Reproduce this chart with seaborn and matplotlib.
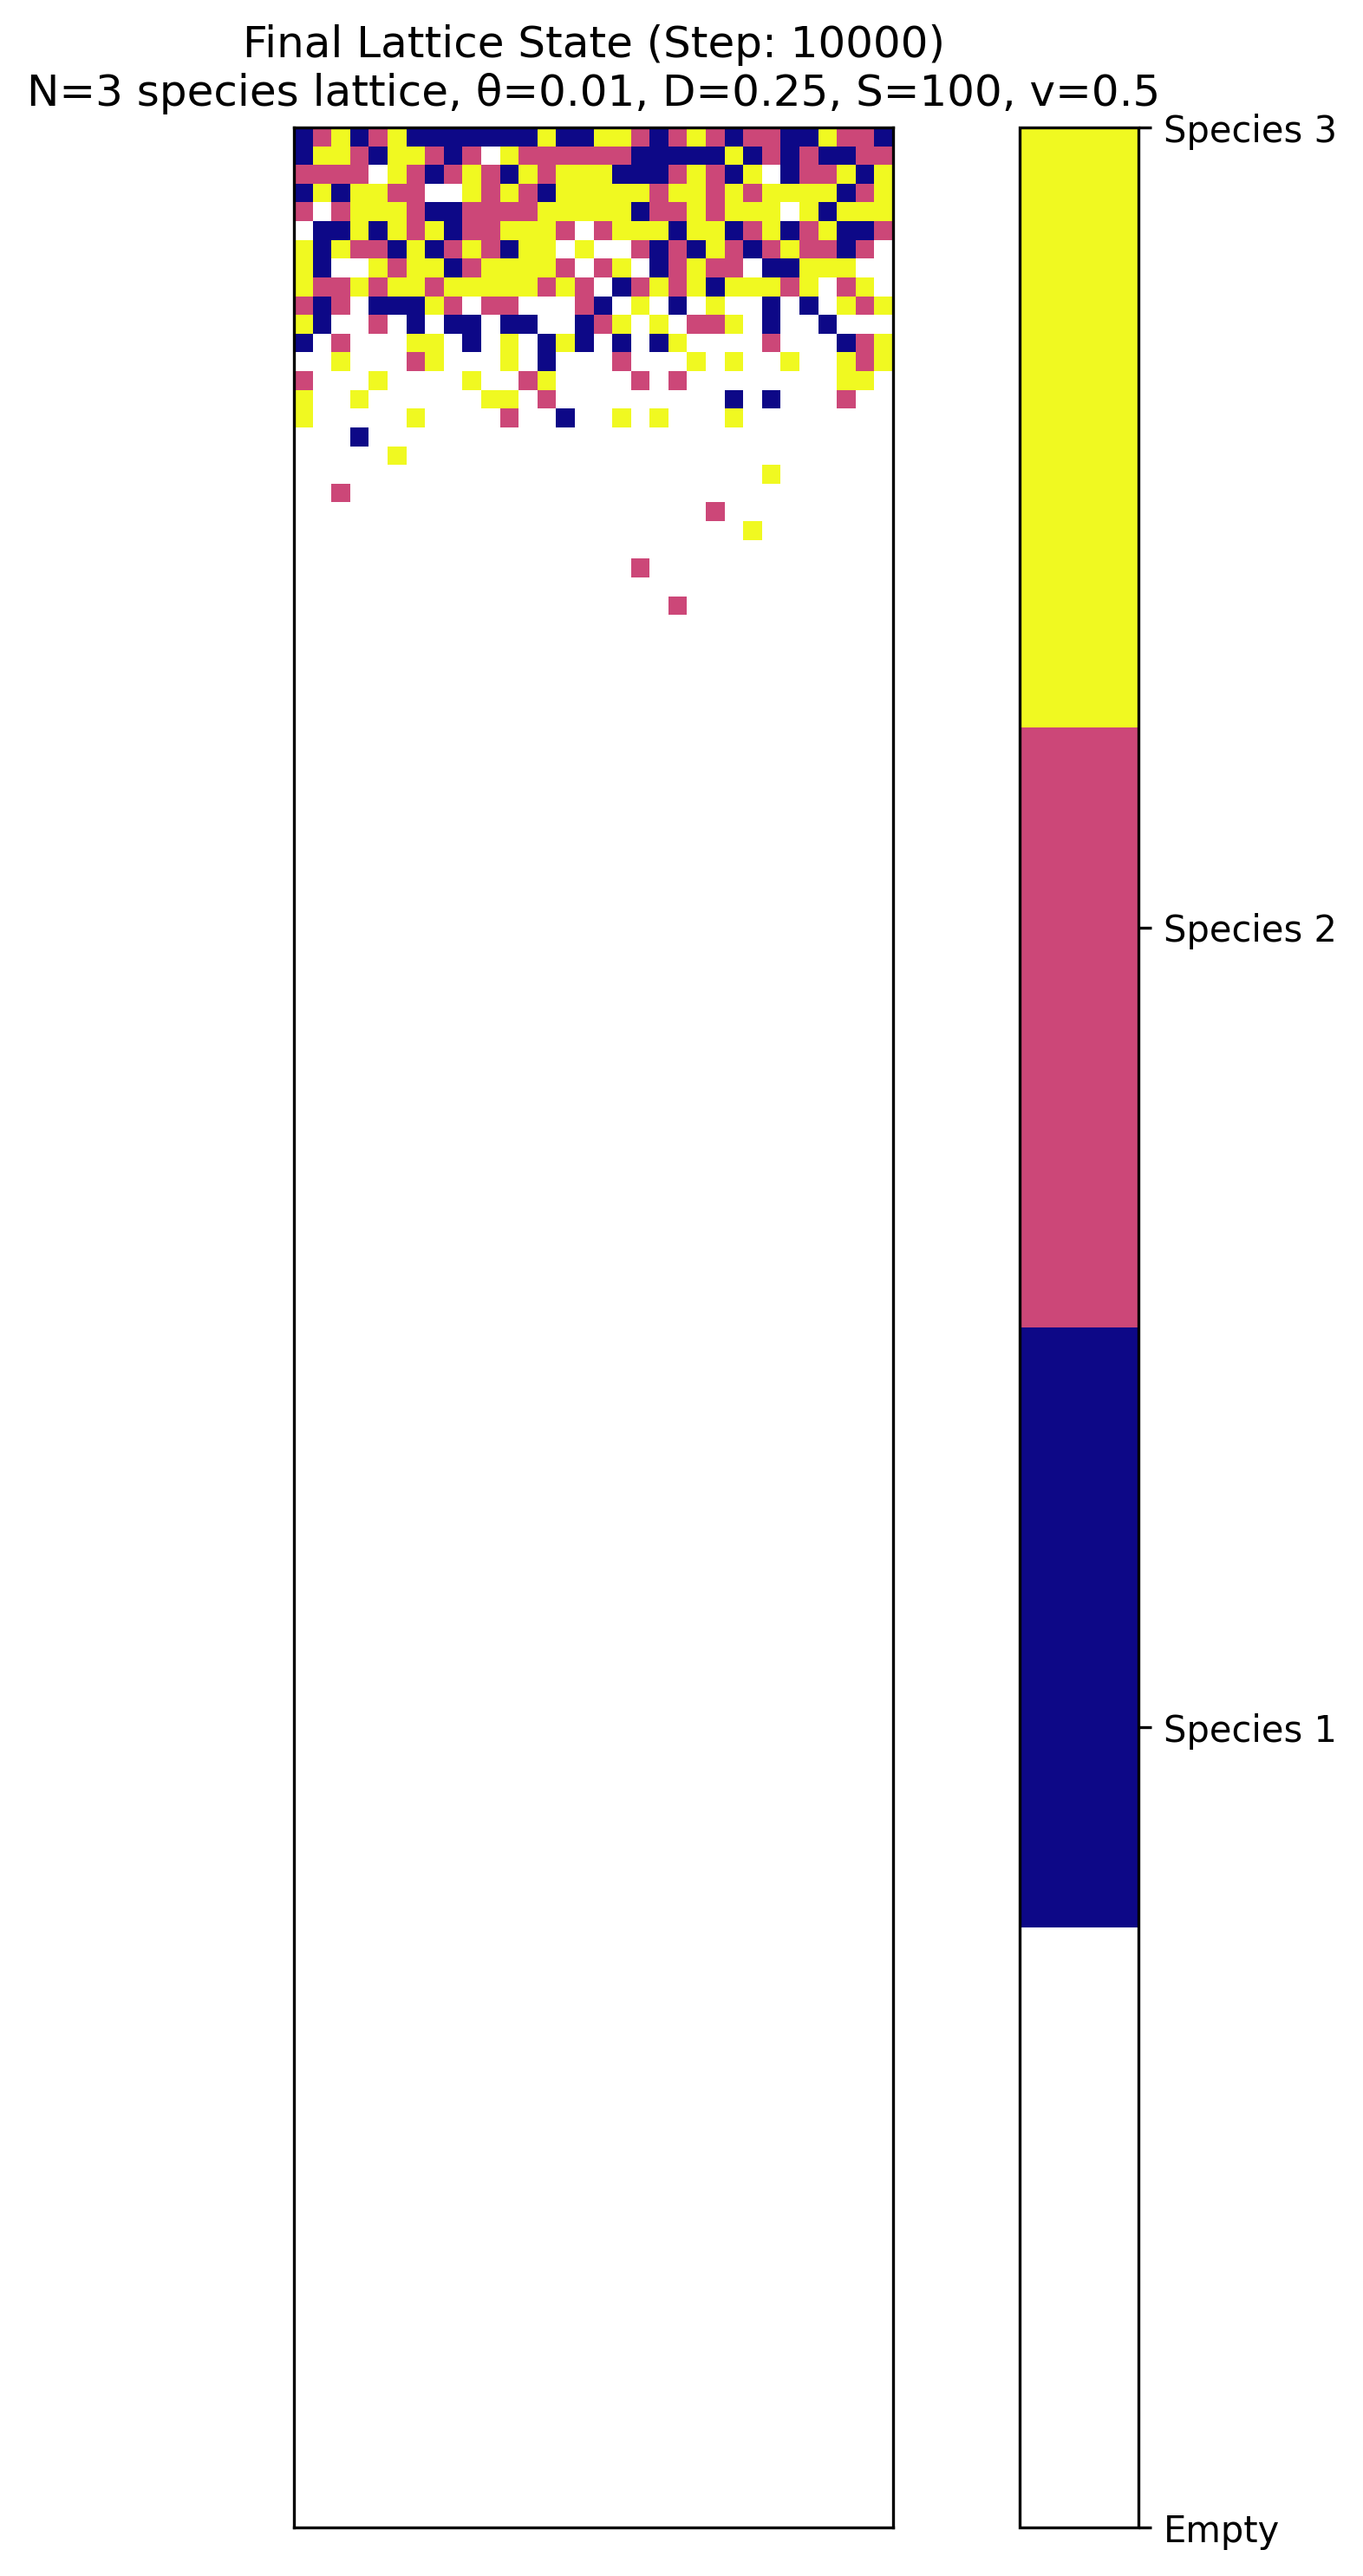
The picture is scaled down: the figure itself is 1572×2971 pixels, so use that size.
import numpy as np
import matplotlib
matplotlib.use("Agg")
import matplotlib.pyplot as plt
import seaborn as sns
from matplotlib.colors import ListedColormap

# Lattice size
n_rows, n_cols = 128, 32

# Dense top rows (0 = empty, 1..3 = species)
top_rows = [
    [1,2,3,1,2,3,1,1,1,1,1,1,1,3,1,1,3,3,2,1,2,3,2,1,2,2,1,1,3,2,2,1],
    [1,3,3,2,1,3,3,2,1,2,0,3,2,2,2,2,2,2,1,1,1,1,1,3,1,2,1,2,1,1,2,2],
    [2,2,2,2,0,3,2,1,2,3,2,1,3,2,3,3,3,1,1,1,2,3,2,1,3,0,1,2,2,3,1,3],
    [1,3,1,3,3,2,2,0,0,3,2,3,2,1,3,3,3,3,3,2,3,3,2,3,2,3,3,3,3,1,2,3],
    [2,0,2,3,3,3,2,1,1,2,2,2,2,3,3,3,3,3,1,2,2,3,2,3,3,3,0,3,1,3,3,3],
    [0,1,1,3,1,3,2,3,1,2,2,3,3,3,2,0,2,3,3,3,1,3,3,1,2,3,1,2,3,1,1,2],
    [3,1,3,2,2,1,3,1,2,3,2,1,3,3,0,3,0,0,2,1,2,1,3,2,1,2,3,2,2,1,2,0],
    [3,1,0,0,3,2,3,3,1,2,3,3,3,3,2,0,2,3,0,1,2,3,2,2,0,1,1,3,3,3,0,0],
    [3,2,2,3,2,3,3,2,3,3,3,3,3,2,3,2,0,1,2,3,2,3,1,3,3,3,2,3,0,2,3,0],
    [2,1,2,0,1,1,1,3,2,0,2,2,0,0,0,2,1,0,3,0,1,0,3,0,0,1,0,1,0,3,2,3],
    [3,1,0,0,2,0,1,0,1,1,0,1,1,0,0,1,2,3,0,3,0,2,2,3,0,1,0,0,1,0,0,0],
    [1,0,2,0,0,0,3,3,0,1,0,3,0,1,3,1,0,1,0,1,3,0,0,0,0,2,0,0,0,1,2,3],
    [0,0,3,0,0,0,2,3,0,0,0,3,0,1,0,0,0,2,0,0,0,3,0,3,0,0,3,0,0,3,2,3],
    [2,0,0,0,3,0,0,0,0,3,0,0,2,3,0,0,0,0,2,0,2,0,0,0,0,0,0,0,0,3,3,0],
    [3,0,0,3,0,0,0,0,0,0,3,3,0,2,0,0,0,0,0,0,0,0,0,1,0,1,0,0,0,2,0,0],
    [3,0,0,0,0,0,3,0,0,0,0,2,0,0,1,0,0,3,0,3,0,0,0,3,0,0,0,0,0,0,0,0],
]

# Isolated occupied cells below the front: (row, col, species)
isolated_cells = [
    (16, 3, 1),
    (17, 5, 3),
    (18, 25, 3),
    (19, 2, 2),
    (20, 22, 2),
    (21, 24, 3),
    (23, 18, 2),
    (25, 20, 2),
]

tick_values = [0, 1, 2, 3]
tick_labels = ["Empty", "Species 1", "Species 2", "Species 3"]
title_text = "Final Lattice State (Step: 10000)\nN=3 species lattice, θ=0.01, D=0.25, S=100, v=0.5"

lattice = np.zeros((n_rows, n_cols), dtype=int)
lattice[:len(top_rows), :] = np.array(top_rows)
for r, c, s in isolated_cells:
    lattice[r, c] = s

plasma = plt.get_cmap("plasma")
cmap = ListedColormap(["white", plasma(0.0), plasma(0.5), plasma(1.0)])

W, H, DPI = 1572, 2971, 300
fig = plt.figure(figsize=(W / DPI, H / DPI), dpi=DPI)
ax = fig.add_axes([339 / W, 1 - 2915 / H, (1030 - 339) / W, (2915 - 147) / H])
cax = fig.add_axes([1176 / W, 1 - 2915 / H, (1313 - 1176) / W, (2915 - 147) / H])

sns.heatmap(lattice, ax=ax, cbar_ax=cax, cmap=cmap, vmin=0, vmax=3,
            xticklabels=False, yticklabels=False, square=False)

for sp in ax.spines.values():
    sp.set_visible(True)
    sp.set_color("black")
    sp.set_linewidth(0.8)
ax.tick_params(left=False, bottom=False)
ax.set_title(title_text, fontsize=12)

cb = ax.collections[0].colorbar
cb.outline.set_visible(True)
cb.outline.set_linewidth(0.8)
cb.outline.set_edgecolor("black")
cb.set_ticks(tick_values)
cb.set_ticklabels(tick_labels)
cb.ax.tick_params(labelsize=10, length=3.5, width=0.8, colors="black")

fig.savefig("out.png", dpi=DPI)
